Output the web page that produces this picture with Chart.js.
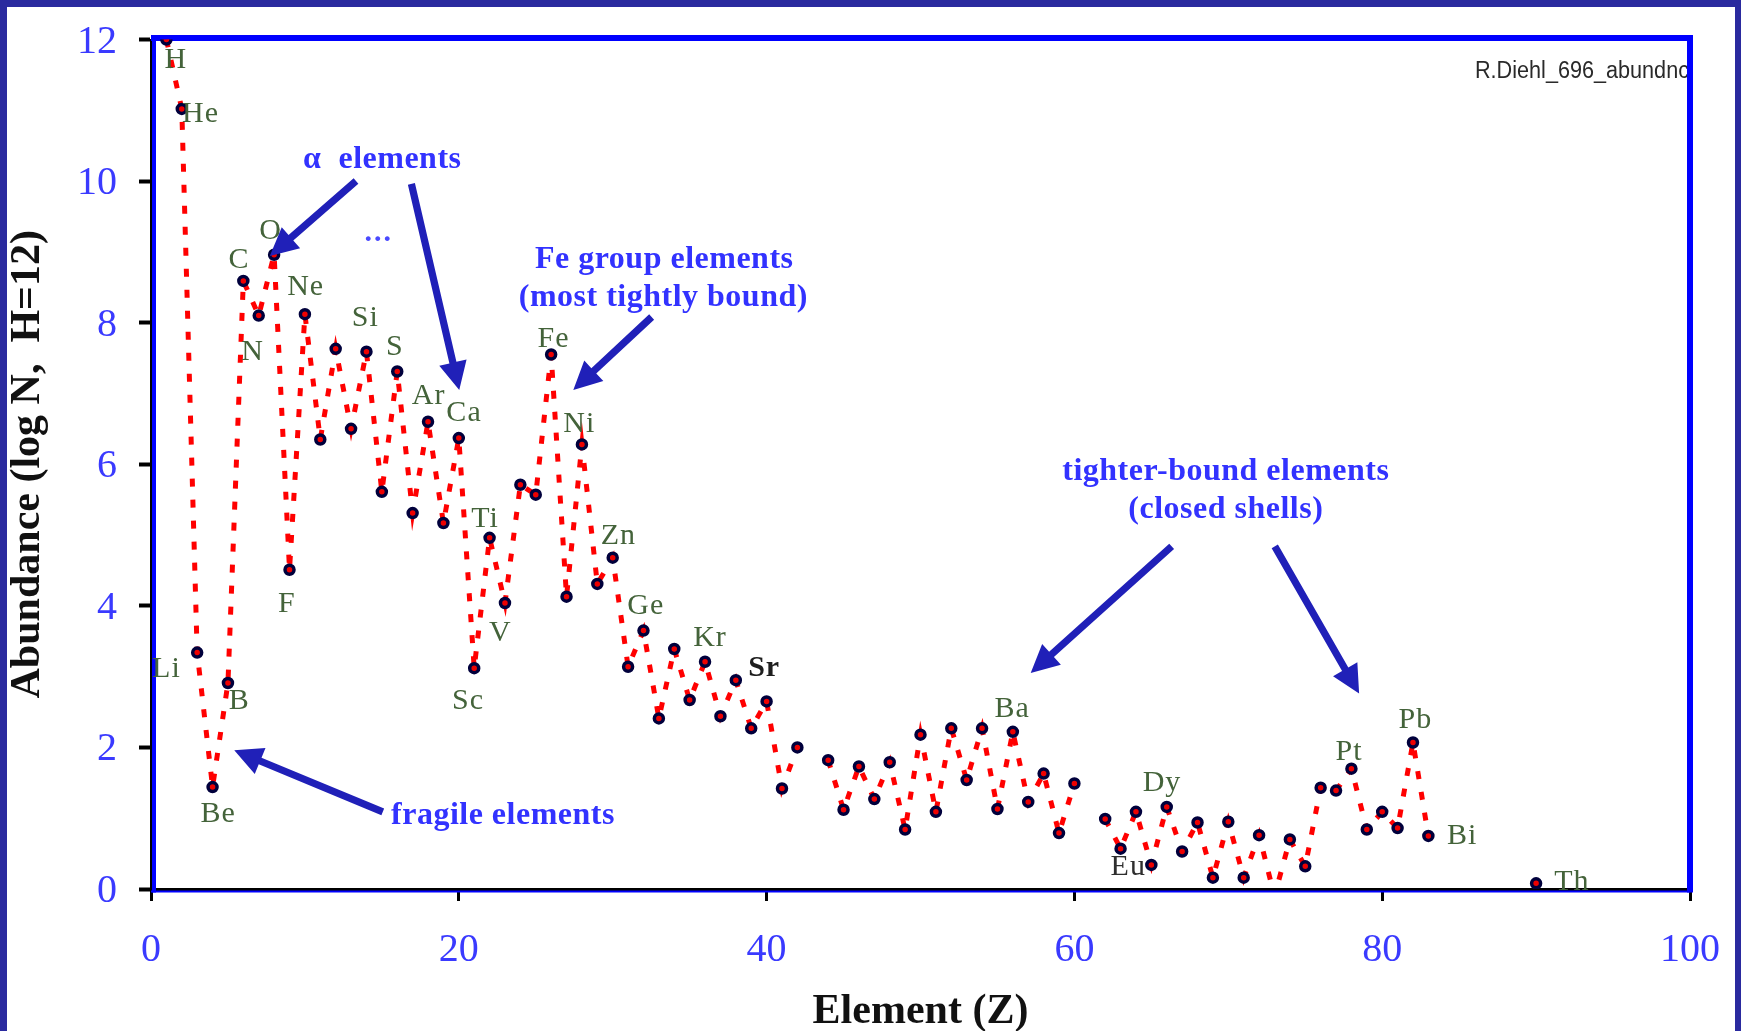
<!DOCTYPE html>
<html>
<head>
<meta charset="utf-8">
<script src="https://cdn.jsdelivr.net/npm/chart.js@4.4.1/dist/chart.umd.min.js"></script>
<style>
html,body{margin:0;padding:0;background:#fff;overflow:hidden}
#wrap{position:relative;width:1741px;height:1031px;background:#fff}
canvas{display:block}
</style>
</head>
<body>
<div id="wrap"><canvas id="c" width="1741" height="1031"></canvas></div>
<script>
// ---- data ----
const elementZ = [1,2,3,4,5,6,7,8,9,10,11,12,13,14,15,16,17,18,19,20,
  21,22,23,24,25,26,27,28,29,30,31,32,33,34,35,36,37,38,39,40,
  41,42,43,44,45,46,47,48,49,50,51,52,53,54,55,56,57,58,59,60,
  61,62,63,64,65,66,67,68,69,70,71,72,73,74,75,76,77,78,79,80,
  81,82,83,84,90];
const abundance = [12.00,11.02,3.34,1.44,2.91,8.59,8.10,8.96,4.51,8.12,
  6.35,7.63,6.50,7.59,5.61,7.31,5.31,6.60,5.17,6.37,
  3.12,4.96,4.04,5.71,5.57,7.55,4.13,6.28,4.31,4.68,
  3.14,3.65,2.41,3.39,2.67,3.21,2.44,2.95,2.27,2.65,
  1.42,2.00,null,1.82,1.12,1.73,1.27,1.79,0.84,2.18,
  1.09,2.27,1.54,2.27,1.13,2.22,1.23,1.63,0.79,1.49,
  null,0.99,0.57,1.09,0.34,1.16,0.53,0.94,0.16,0.95,
  0.16,0.76,-0.10,0.70,0.32,1.43,1.39,1.70,0.84,1.09,
  0.86,2.07,0.75,null,0.08];

// element name labels (text centre in data coordinates)
const labelNames = ['H','He','Li','Be','B','C','N','O','F','Ne','Si','S','Ar','Ca','Sc','Ti','V','Fe','Ni','Zn','Ge','Kr','Sr','Ba','Eu','Dy','Pt','Pb','Bi','Th'];
const labelZ = [1.62,3.22,1.0,4.37,5.74,5.72,6.6,7.77,8.82,10.05,13.92,15.84,18.04,20.34,20.6,21.7,22.7,26.15,27.83,30.37,32.15,36.32,39.84,55.96,63.5,65.69,77.84,82.16,85.2,92.33];
const labelV = [11.71,10.94,3.10,1.06,2.66,8.89,7.58,9.29,4.03,8.50,8.06,7.65,6.96,6.72,2.66,5.22,3.61,7.77,6.57,4.99,4.0,3.54,3.12,2.54,0.315,1.49,1.94,2.38,0.74,0.10];

// blue annotation texts
const noteText = ['\u03b1  elements','Fe group elements','(most tightly bound)','fragile elements','tighter-bound elements','(closed shells)'];
const noteZ = [15.03,33.35,33.29,22.87,69.84,69.84];
const noteV = [10.30,8.89,8.35,1.03,5.89,5.36];
const dotsZ = 14.8, dotsV = 9.15;

// arrows (tail -> tip) in data coordinates
const arrowTailZ = [13.32,16.92,32.53,15.06,66.32,73.02];
const arrowTailV = [10.0,9.96,8.08,1.09,4.84,4.84];
const arrowTipZ  = [7.72,20.03,27.44,5.41,57.16,78.5];
const arrowTipV  = [8.94,7.05,7.05,1.96,3.05,2.76];

const xTickStep = 20, yTickStep = 2;
const xMin = 0, xMax = 100, yMin = 0, yMax = 12;

const points = elementZ.map((z, i) => ({x: z, y: abundance[i]}));

const SERIF = "'Liberation Serif','Times New Roman',serif";

function drawArrow(ctx, x1, y1, x2, y2) {
  const ang = Math.atan2(y2 - y1, x2 - x1);
  const ux = Math.cos(ang), uy = Math.sin(ang), nx = -uy, ny = ux;
  const headLen = 28, headW = 14, shaft = 3.6;
  const bx = x2 - ux * headLen, by = y2 - uy * headLen;
  ctx.beginPath();
  ctx.moveTo(x1 + nx * shaft, y1 + ny * shaft);
  ctx.lineTo(bx + nx * shaft, by + ny * shaft);
  ctx.lineTo(bx + nx * headW, by + ny * headW);
  ctx.lineTo(x2, y2);
  ctx.lineTo(bx - nx * headW, by - ny * headW);
  ctx.lineTo(bx - nx * shaft, by - ny * shaft);
  ctx.lineTo(x1 - nx * shaft, y1 - ny * shaft);
  ctx.closePath();
  ctx.fill();
}

const framePlugin = {
  id: 'frame',
  beforeDraw(chart) {
    const ctx = chart.ctx;
    ctx.save();
    ctx.fillStyle = '#ffffff';
    ctx.fillRect(0, 0, chart.width, chart.height);
    ctx.restore();
  },
  beforeDatasetsDraw(chart) {
    const ctx = chart.ctx, a = chart.chartArea;
    ctx.save();
    ctx.beginPath();
    ctx.rect(a.left, a.top, a.right - a.left - 2, a.bottom - a.top);
    ctx.clip();
    ctx.fillStyle = '#2a2a2a';
    ctx.font = "23px 'Liberation Sans', Arial, sans-serif";
    ctx.textBaseline = 'middle';
    ctx.translate(1475, 72);
    ctx.scale(0.94, 1);
    ctx.fillText('R.Diehl_696_abundnce', 0, 0);
    ctx.restore();

    ctx.save();
    ctx.fillStyle = '#0000ff';
    const L = a.left, R = a.right, T = a.top, B = a.bottom;
    ctx.fillRect(L, T - 4.5, R + 3 - L, 6);
    ctx.fillRect(R - 3, T - 4.5, 6, B + 3.5 - (T - 4.5));
    ctx.fillRect(L + 1, T - 4.5, 4, B + 3.5 - (T - 4.5));
    ctx.fillRect(L, B + 1.5, R - L, 2);
    ctx.restore();
  },
  afterDatasetsDraw(chart) {
    const ctx = chart.ctx;
    const xs = chart.scales.x, ys = chart.scales.y;
    const px = z => xs.getPixelForValue(z), py = v => ys.getPixelForValue(v);
    ctx.save();
    ctx.textAlign = 'center';
    ctx.textBaseline = 'middle';
    ctx.letterSpacing = '1px';
    labelNames.forEach((t, i) => {
      ctx.fillStyle = (t === 'Sr') ? '#1e1e1e' : (t === 'Eu' ? '#2e2e2e' : '#44633a');
      ctx.font = (t === 'Sr' ? 'bold ' : '') + '30px ' + SERIF;
      ctx.fillText(t, px(labelZ[i]), py(labelV[i]));
    });
    ctx.fillStyle = '#2020b8';
    arrowTailZ.forEach((z, i) => {
      drawArrow(ctx, px(z), py(arrowTailV[i]), px(arrowTipZ[i]), py(arrowTipV[i]));
    });
    ctx.fillStyle = '#3232ff';
    ctx.font = 'bold 32px ' + SERIF;
    ctx.letterSpacing = '0.5px';
    noteText.forEach((t, i) => {
      ctx.fillText(t, px(noteZ[i]), py(noteV[i]));
    });
    ctx.letterSpacing = '2px';
    ctx.textBaseline = 'alphabetic';
    ctx.fillStyle = '#4a4aff';
    ctx.font = 'bold 30px ' + SERIF;
    ctx.fillText('...', px(dotsZ), py(dotsV));
    ctx.restore();
  },
  afterDraw(chart) {
    const ctx = chart.ctx;
    ctx.save();
    ctx.fillStyle = '#2a2a9f';
    ctx.fillRect(0, 0, 7, chart.height);
    ctx.fillRect(0, 0, chart.width, 7);
    ctx.fillRect(chart.width - 6, 0, 6, chart.height);
    ctx.restore();
  }
};

new Chart(document.getElementById('c'), {
  type: 'line',
  data: {
    datasets: [{
      data: points,
      borderColor: '#ff0000',
      borderWidth: 5,
      borderDash: [8, 13],
      pointRadius: 4.5,
      pointHoverRadius: 4.5,
      pointBackgroundColor: '#ee0000',
      pointBorderColor: '#00003c',
      pointBorderWidth: 3.5,
      tension: 0,
      spanGaps: false,
      fill: false
    }]
  },
  options: {
    responsive: false,
    animation: false,
    devicePixelRatio: 1,
    layout: { autoPadding: false, padding: { left: 0, top: 39.5, right: 51, bottom: 0 } },
    plugins: { legend: { display: false }, tooltip: { enabled: false } },
    scales: {
      x: {
        type: 'linear', min: xMin, max: xMax,
        afterFit: s => { s.height = 142; s.paddingLeft = 0; s.paddingRight = 0; },
        border: { display: true, color: '#000000', width: 3 },
        grid: { display: true, drawOnChartArea: false, drawTicks: true, tickLength: 12, tickColor: '#000000', tickWidth: 3 },
        ticks: { stepSize: xTickStep, color: '#3a3aff', padding: 25, maxRotation: 0,
                 font: { family: SERIF, size: 40 } },
        title: { display: true, text: 'Element (Z)', color: '#111111',
                 font: { family: SERIF, size: 42, weight: 'bold', lineHeight: 0.8 },
                 padding: { top: 0, bottom: 2 } }
      },
      y: {
        type: 'linear', min: yMin, max: yMax,
        afterFit: s => { s.width = 151; s.paddingTop = 0; s.paddingBottom = 0; },
        border: { display: true, color: '#000000', width: 2 },
        grid: { display: true, drawOnChartArea: false, drawTicks: true, tickLength: 12, tickColor: '#000000', tickWidth: 4 },
        ticks: { stepSize: yTickStep, color: '#3a3aff', padding: 22, labelOffset: 2.5,
                 font: { family: SERIF, size: 40 } },
        title: { display: true, text: 'Abundance (log N,  H=12)', color: '#111111',
                 font: { family: SERIF, size: 42, weight: 'bold', lineHeight: 1.2 },
                 padding: { top: 3.3, bottom: 0 } }
      }
    }
  },
  plugins: [framePlugin]
});
</script>
</body>
</html>
